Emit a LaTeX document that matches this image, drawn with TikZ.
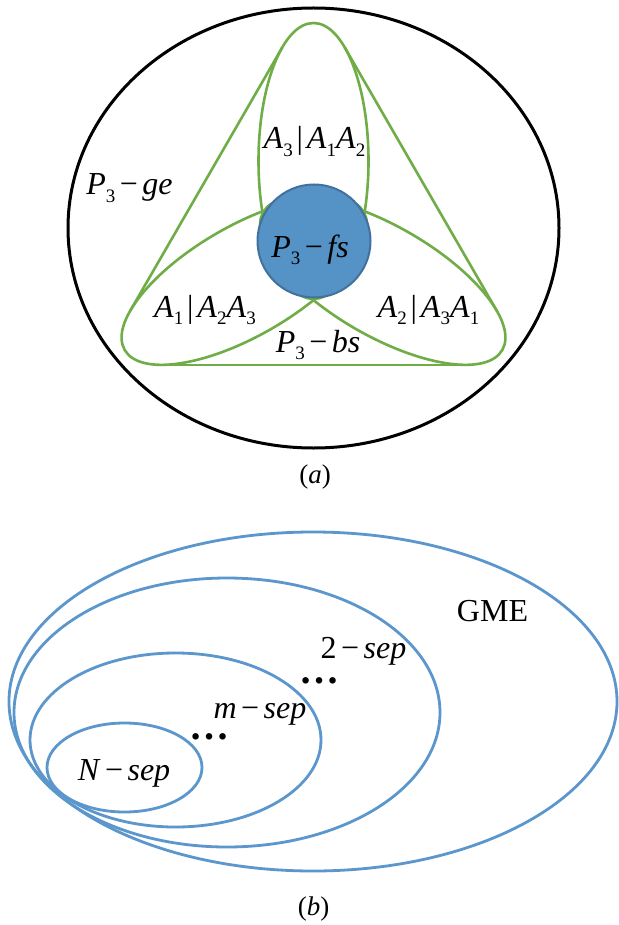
\documentclass[tikz,border=0pt]{standalone}
\usepackage{fontspec}
\setmainfont{Liberation Serif}
\definecolor{lgreen}{HTML}{70AD47}
\definecolor{cfill}{HTML}{5592C6}
\definecolor{cedge}{HTML}{41719C}
\definecolor{bblue}{HTML}{5B96CC}
\newcommand{\sbx}[1]{\raisebox{-0.24em}{\fontsize{19}{19}\selectfont #1}}
\newcommand{\Pt}{\textit{P}\sbx{3}}
\newcommand{\Ax}[1]{\textit{A}\sbx{#1}}
\newcommand{\mns}{\hspace{0.14em}−\hspace{0.14em}}
\newcommand{\barx}{\hspace{0.12em}|\hspace{0.12em}}
\tikzset{
  outerell/.style={draw=black, line width=3pt},
  lobe/.style={draw=lgreen, line width=2.6pt},
  hull/.style={draw=lgreen, line width=2.6pt},
  core/.style={circle, draw=cedge, fill=cfill, line width=2pt, minimum size=113pt, inner sep=0pt},
  bell/.style={draw=bblue, line width=2.8pt},
  lab/.style={font=\fontsize{32}{32}\selectfont, inner sep=0pt, anchor=base},
  captext/.style={font=\fontsize{27}{27}\selectfont, inner sep=0pt, anchor=center},
  dotlab/.style={font=\fontsize{40}{40}\selectfont\bfseries, inner sep=0pt, anchor=center},
}
\begin{document}
\begin{tikzpicture}[x=1pt,y=1pt]
\useasboundingbox (0,0) rectangle (618,-925);
\fill[white] (0,0) rectangle (618,-925);

% ---------- (a) ----------
\draw[outerell] (313.5,-228) ellipse [x radius=245.5, y radius=220];
\coordinate (O) at (313.5,-241);
\foreach \ang/\nm in {90/top,210/left,330/right} {
  \begin{scope}[shift={(O)}, rotate=\ang]
    \draw[lobe] (80,0) ellipse [x radius=138, y radius=55];
    \coordinate (\nm P) at (193.6,31.2);
    \coordinate (\nm M) at (193.6,-31.2);
  \end{scope}
}
\draw[hull] (leftM) -- (topP);
\draw[hull] (topM) -- (rightP);
\draw[hull] (rightM) -- (leftP);
\node[core] (fs) at (314,-241) {};

\node[lab] (lfs) at (310,-257) {\Pt\mns\textit{fs}};
\node[lab] (lge) at (129.5,-195) {\Pt\mns\textit{ge}};
\node[lab] (lbs) at (318,-352) {\Pt\mns\textit{bs}};
\node[lab] (l3) at (314.5,-149) {\Ax{3}\barx\Ax{1}\Ax{2}};
\node[lab] (l1) at (205,-317) {\Ax{1}\barx\Ax{2}\Ax{3}};
\node[lab] (l2) at (428.5,-317) {\Ax{2}\barx\Ax{3}\Ax{1}};
\node[captext] (capa) at (315,-477.5) {(\textit{a})};

% ---------- (b) ----------
\draw[bell] (313,-701.5) ellipse [x radius=304, y radius=169.5];
\draw[bell] (227,-712.5) ellipse [x radius=213, y radius=134.5];
\draw[bell] (175.5,-740) ellipse [x radius=145.5, y radius=87];
\draw[bell] (124.5,-767.5) ellipse [x radius=77.5, y radius=44.5];

\node[lab] (gme) at (492.5,-621) {GME};
\node[lab] (s2) at (363.5,-658) {2\mns\textit{sep}};
\node[lab] (sm) at (260,-718) {\textit{m}\mns\textit{sep}};
\node[lab] (sn) at (124,-780) {\textit{N}\mns\textit{sep}};
\node[dotlab] (d1) at (319.5,-681) {…};
\node[dotlab] (d2) at (209.5,-737) {…};
\node[captext] (capb) at (313.5,-908.5) {(\textit{b})};
\end{tikzpicture}
\end{document}
